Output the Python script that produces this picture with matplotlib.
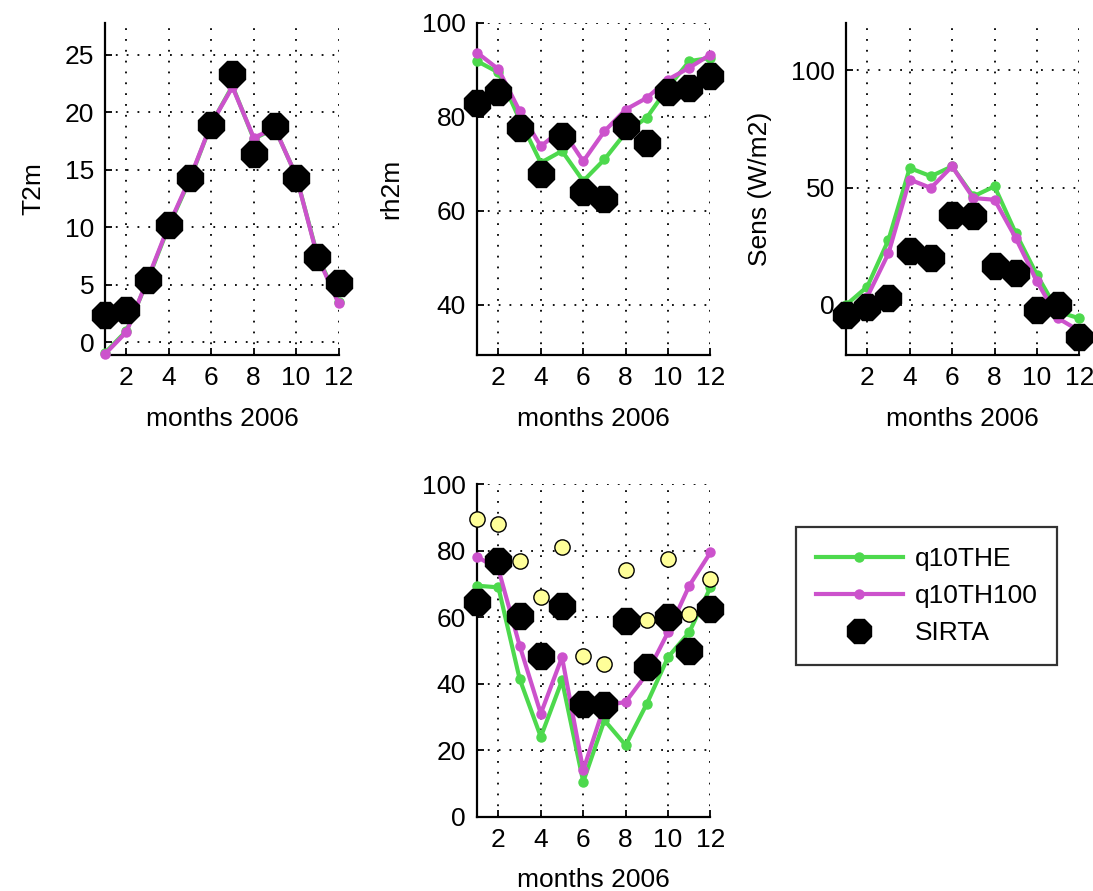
import matplotlib
matplotlib.use("Agg")
import matplotlib.pyplot as plt
from matplotlib.lines import Line2D

plt.rcParams['font.family'] = ['Liberation Sans', 'DejaVu Sans']

months = list(range(1, 13))

# 2 m temperature (degC)
t2m_the = [-0.9, 1.0, 5.4, 10.1, 14.2, 19.0, 22.3, 17.7, 18.6, 14.5, 7.6, 3.5]
t2m_th100 = [-1.0, 0.9, 5.5, 10.2, 14.3, 19.0, 22.2, 17.8, 18.6, 14.5, 7.5, 3.4]
t2m_sirta = [2.35, 2.8, 5.4, 10.2, 14.3, 18.9, 23.3, 16.4, 18.8, 14.3, 7.4, 5.2]

# 2 m relative humidity (%)
rh_the = [91.8, 89.4, 79.4, 70.2, 72.7, 66.3, 70.9, 76.6, 79.8, 86.2, 91.8, 92.5]
rh_th100 = [93.6, 90.1, 81.2, 73.7, 77.3, 70.5, 76.9, 81.5, 84.0, 87.9, 90.4, 93.2]
rh_sirta = [83.0, 85.2, 77.6, 67.7, 75.8, 63.9, 62.5, 78.1, 74.3, 85.2, 86.2, 88.6]

# Sensible heat flux (W/m2)
sens_the = [0.0, 7.8, 27.7, 58.3, 54.8, 59.0, 46.2, 50.5, 30.6, 12.8, -2.9, -5.7]
sens_th100 = [-3.0, 3.5, 22.0, 53.4, 49.8, 59.0, 45.5, 44.8, 28.5, 10.0, -5.7, -11.0]
sens_sirta = [-4.3, -0.7, 2.9, 22.8, 19.9, 38.4, 38.0, 16.4, 13.5, -2.1, 0.0, -13.5]

# Fourth variable (no label)
v4_the = [69.5, 69.0, 41.5, 24.0, 41.0, 10.5, 29.0, 21.5, 34.0, 48.0, 55.5, 69.0]
v4_th100 = [78.2, 74.5, 51.5, 31.0, 48.0, 14.0, 33.5, 34.5, 43.0, 55.5, 69.5, 79.5]
v4_sirta = [64.5, 77.0, 60.5, 48.5, 63.5, 34.0, 33.5, 59.0, 45.0, 60.0, 50.0, 62.5]
v4_extra = [89.5, 88.0, 77.0, 66.0, 81.0, 48.5, 46.0, 74.2, 59.2, 77.5, 61.0, 71.5]

xticks = [2, 4, 6, 8, 10, 12]
xlabel = "months 2006"

GREEN = (0.30, 0.85, 0.30)
MAGENTA = (0.80, 0.32, 0.80)
YELLOW = (1.0, 1.0, 0.6)
FS = 19
LW = 3.0
MS_MODEL = 6.5

fig = plt.figure(figsize=(10.93, 8.91), dpi=100)

W, H = 0.2134, 0.373
positions = [
    (0.0963, 0.6016),
    (0.4366, 0.6016),
    (0.7741, 0.6016),
    (0.4366, 0.0834),
]

panels = [
    dict(the=t2m_the, th=t2m_th100, obs=t2m_sirta, ylim=(-1.1, 27.8),
         yticks=[0, 5, 10, 15, 20, 25], ylabel="T2m"),
    dict(the=rh_the, th=rh_th100, obs=rh_sirta, ylim=(29.3, 100),
         yticks=[40, 60, 80, 100], ylabel="rh2m"),
    dict(the=sens_the, th=sens_th100, obs=sens_sirta, ylim=(-21.3, 120.2),
         yticks=[0, 50, 100], ylabel="Sens (W/m2)"),
    dict(the=v4_the, th=v4_th100, obs=v4_sirta, ylim=(0, 100),
         yticks=[0, 20, 40, 60, 80, 100], ylabel=None, extra=v4_extra),
]

for (x0, y0), p in zip(positions, panels):
    ax = fig.add_axes([x0, y0, W, H])
    ax.plot(months, p['the'], '-', color=GREEN, lw=LW, marker='o',
            ms=MS_MODEL, clip_on=False, zorder=3)
    ax.plot(months, p['th'], '-', color=MAGENTA, lw=LW, marker='o',
            ms=MS_MODEL, clip_on=False, zorder=4)
    if 'extra' in p:
        ax.plot(months, p['extra'], linestyle='none', marker='o', ms=11,
                mfc=YELLOW, mec='black', mew=1.0, clip_on=False, zorder=5)
    ax.plot(months, p['obs'], linestyle='none', marker='8', ms=20.5,
            color='black', clip_on=False, zorder=6)
    ax.set_xlim(1, 12)
    ax.set_ylim(*p['ylim'])
    ax.set_xticks(xticks)
    ax.set_yticks(p['yticks'])
    ax.grid(True, color='black', linestyle=(0, (1, 5)), linewidth=1.3)
    ax.set_axisbelow(True)
    for s in ('top', 'right'):
        ax.spines[s].set_visible(False)
    for s in ('left', 'bottom'):
        ax.spines[s].set_linewidth(1.6)
    ax.tick_params(direction='in', length=5, width=1.3, labelsize=FS,
                   pad=8, top=False, right=False)
    ax.set_xlabel(xlabel, fontsize=FS, labelpad=12)
    if p['ylabel']:
        ax.set_ylabel(p['ylabel'], fontsize=FS, labelpad=14)

# Legend in the empty lower-right slot
handles = [
    Line2D([], [], color=GREEN, lw=LW, marker='o', ms=MS_MODEL),
    Line2D([], [], color=MAGENTA, lw=LW, marker='o', ms=MS_MODEL),
    Line2D([], [], color='black', linestyle='none', marker='8', ms=19),
]
labels = ["q10THE", "q10TH100", "SIRTA"]
leg = fig.legend(handles, labels, loc='upper left',
                 bbox_to_anchor=(796 / 1093, 1 - 527 / 891),
                 fontsize=FS, frameon=True, fancybox=False,
                 edgecolor='black', borderpad=0.75, labelspacing=0.5,
                 handlelength=3.3, handletextpad=0.45, borderaxespad=0)
leg.get_frame().set_linewidth(1.6)

fig.savefig("out.png", dpi=100)
